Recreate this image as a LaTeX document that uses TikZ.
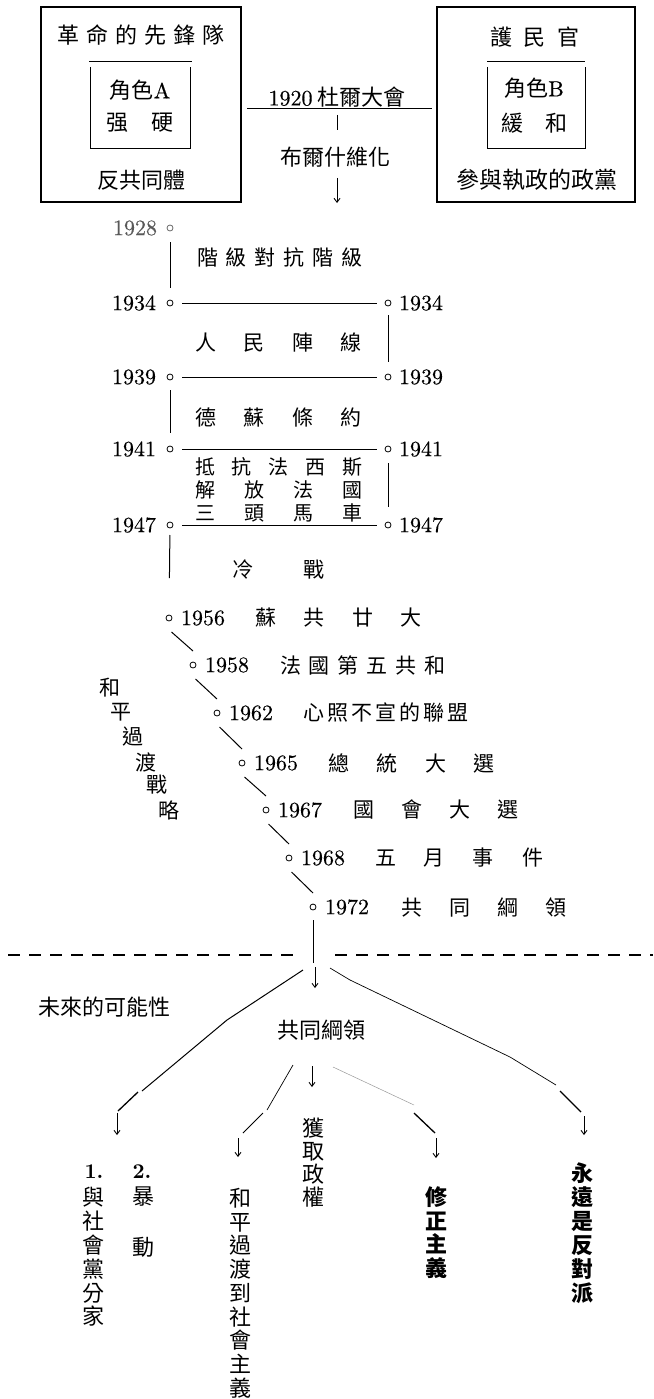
\documentclass[tikz,border=0pt]{standalone}
\usepackage{fontspec}
\newfontfamily\cjk{Noto Sans CJK TC}
\newfontfamily\numf[FakeBold=0.3]{lmroman10-regular.otf}
\newfontfamily\numb{lmroman10-bold.otf}
\usetikzlibrary{arrows.meta,calc}
\newcommand\spreadbox[2]{\makebox[#1]{#2}}
\newcommand\hf{\hfill}
\begin{document}
\begin{tikzpicture}[x=1pt,y=-1pt,
  every node/.style={inner sep=0pt, outer sep=0pt},
  dot/.style={circle, draw, minimum size=6pt, inner sep=0pt, line width=0.8pt},
  yr/.style={font=\numf\fontsize{22}{24}\selectfont},
  ct/.style={font=\cjk\fontsize{21}{24}\selectfont},
  big/.style={font=\cjk\fontsize{22}{24}\selectfont},
  vt/.style={font=\cjk\fontsize{22}{23.8}\selectfont, align=center},
  ln/.style={line width=1pt},
  thin/.style={line width=0.7pt},
  arr/.style={line width=0.9pt, -{Straight Barb[length=4pt,width=6pt]}},
  framebox/.style={line width=2.4pt},
  dsh/.style={line width=1.4pt, dash pattern=on 12pt off 9pt},
]
\useasboundingbox (0,0) rectangle (653,1399);

% ---------- top boxes ----------
\coordinate (LB1) at (41,7);  \coordinate (LB2) at (241,202);
\draw[framebox] (LB1) rectangle (LB2);
\coordinate (RB1) at (437,7); \coordinate (RB2) at (635,202);
\draw[framebox] (RB1) rectangle (RB2);

\node[big] (lt) at (141,35) {\spreadbox{167pt}{革\hf 命\hf 的\hf 先\hf 鋒\hf 隊}};
\coordinate (li1) at (89,61); \coordinate (li2) at (192,61);
\draw[thin] (li1) -- (li2);
\coordinate (li3) at (90,67); \coordinate (li4) at (90,148);
\coordinate (li5) at (190,148); \coordinate (li6) at (190,67);
\draw[thin] (li3) -- (li4) -- (li5) -- (li6);
\node[big] (la) at (140,90) {角色{\numf\fontsize{22}{24}\selectfont A}};
\node[big] (lb) at (140,123) {\spreadbox{68pt}{强\hf 硬}};
\node[big] (lc) at (141,180) {反共同體};

\node[big] (rt) at (535,37) {\spreadbox{90pt}{護\hf 民\hf 官}};
\coordinate (ri1) at (487,61); \coordinate (ri2) at (585,61);
\draw[thin] (ri1) -- (ri2);
\coordinate (ri3) at (487,67); \coordinate (ri4) at (487,148);
\coordinate (ri5) at (585,148); \coordinate (ri6) at (585,67);
\draw[line width=0.9pt] (ri3) -- (ri4) -- (ri5) -- (ri6);
\node[big] (ra) at (534,88) {角色{\numf\fontsize{22}{24}\selectfont B}};
\node[big] (rb) at (534,123) {\spreadbox{66pt}{緩\hf 和}};
\node[font=\cjk\fontsize{23}{24}\selectfont] (rc) at (537,180) {參與執政的政黨};

% ---------- middle top ----------
\node[big] (m1) at (337,97) {{\numf\fontsize{22}{24}\selectfont 1920}\ 杜爾大會};
\coordinate (u1) at (247,108); \coordinate (u2) at (432,108);
\draw[thin] (u1) -- (u2);
\coordinate (k1) at (337,115); \coordinate (k2) at (337,130);
\draw[thin] (k1) -- (k2);
\node[big] (m2) at (335,157) {布爾什維化};
\coordinate (k3) at (337,178); \coordinate (k4) at (337,203);
\draw[arr] (k3) -- (k4);

% ---------- timeline (parallel part) ----------
\node[dot, draw=black!60] (c1928) at (170,228) {};
\node[dot] (c1934L) at (170,303) {};
\node[dot] (c1934R) at (388,303) {};
\node[dot] (c1939L) at (170,377) {};
\node[dot] (c1939R) at (388,377) {};
\node[dot] (c1941L) at (170,449) {};
\node[dot] (c1941R) at (388,449) {};
\node[dot] (c1947L) at (170,525) {};
\node[dot] (c1947R) at (388,525) {};

\node[yr, anchor=east, text=black!65] (y1928) at (157,228) {1928};
\node[yr, anchor=east] (y1934L) at (156,303) {1934};
\node[yr, anchor=west] (y1934R) at (399,303) {1934};
\node[yr, anchor=east] (y1939L) at (156,377) {1939};
\node[yr, anchor=west] (y1939R) at (399,377) {1939};
\node[yr, anchor=east] (y1941L) at (156,449) {1941};
\node[yr, anchor=west] (y1941R) at (399,449) {1941};
\node[yr, anchor=east] (y1947L) at (156,525) {1947};
\node[yr, anchor=west] (y1947R) at (399,525) {1947};

\draw[ln, shorten <=11pt, shorten >=12pt] (c1928) -- (c1934L);
\draw[ln, shorten <=9pt, shorten >=8pt] (c1934L) -- (c1934R);
\draw[ln, shorten <=9pt, shorten >=12pt] (c1934R) -- (c1939R);
\draw[ln, shorten <=9pt, shorten >=8pt] (c1939L) -- (c1939R);
\draw[ln, shorten <=10pt, shorten >=13pt] (c1939L) -- (c1941L);
\draw[ln, shorten <=9pt, shorten >=8pt] (c1941L) -- (c1941R);
\draw[ln, shorten <=11pt, shorten >=15pt] (c1941R) -- (c1947R);
\draw[ln, shorten <=9pt, shorten >=8pt] (c1947L) -- (c1947R);

\node[ct, anchor=west] (p1) at (197,257) {\spreadbox{165pt}{階\hf 級\hf 對\hf 抗\hf 階\hf 級}};
\node[ct, anchor=west] (p2) at (195,343) {\spreadbox{167pt}{人\hf 民\hf 陣\hf 線}};
\node[ct, anchor=west] (p3) at (195,417) {\spreadbox{167pt}{德\hf 蘇\hf 條\hf 約}};
\node[font=\cjk\fontsize{20}{23}\selectfont, align=center] (p4) at (278.5,490)
  {\spreadbox{167pt}{抵\hf 抗\hf 法\hf 西\hf 斯}\\
   \spreadbox{167pt}{解\hf 放\hf 法\hf 國}\\
   \spreadbox{167pt}{三\hf 頭\hf 馬\hf 車}};

% ---------- timeline (diagonal part) ----------
\node[dot] (c1956) at (169,618) {};
\node[dot] (c1958) at (193,665) {};
\node[dot] (c1962) at (217,713) {};
\node[dot] (c1965) at (242,763) {};
\node[dot] (c1967) at (266,810) {};
\node[dot] (c1968) at (289,858) {};
\node[dot] (c1972) at (313,907) {};

\draw[ln, shorten <=7pt, shorten >=37pt] (c1947L) -- (c1956);
\node[ct, anchor=west] (p5) at (232,570) {\spreadbox{93pt}{冷\hf 戰}};

\foreach \a/\b in {c1956/c1958, c1958/c1962, c1962/c1965, c1965/c1967, c1967/c1968, c1968/c1972}
  \draw[ln] ($(\a)+(2.5,14)$) -- ($(\b)+(0,-14)$);

\node[yr, anchor=west] (y1956) at (181,618) {1956};
\node[yr, anchor=west] (y1958) at (205,665) {1958};
\node[yr, anchor=west] (y1962) at (229,713) {1962};
\node[yr, anchor=west] (y1965) at (254,763) {1965};
\node[yr, anchor=west] (y1967) at (278,810) {1967};
\node[yr, anchor=west] (y1968) at (301,858) {1968};
\node[yr, anchor=west] (y1972) at (325,907) {1972};

\node[ct, anchor=west] (e1956) at (255,618) {\spreadbox{167pt}{蘇\hf 共\hf 廿\hf 大}};
\node[ct, anchor=west] (e1958) at (280,665) {\spreadbox{166pt}{法\hf 國\hf 第\hf 五\hf 共\hf 和}};
\node[ct, anchor=west] (e1962) at (303,713) {\spreadbox{166pt}{心\hf 照\hf 不\hf 宣\hf 的\hf 聯\hf 盟}};
\node[ct, anchor=west] (e1965) at (328,763) {\spreadbox{167pt}{總\hf 統\hf 大\hf 選}};
\node[ct, anchor=west] (e1967) at (353,810) {\spreadbox{166pt}{國\hf 會\hf 大\hf 選}};
\node[ct, anchor=west] (e1968) at (375,858) {\spreadbox{168pt}{五\hf 月\hf 事\hf 件}};
\node[ct, anchor=west] (e1972) at (401,907) {\spreadbox{166pt}{共\hf 同\hf 綱\hf 領}};

\foreach \c/\x/\y [count=\i] in {和/110/688, 平/121/712, 過/133/737, 渡/146/762, 戰/157/785, 略/169/810}
  \node[ct] (s\i) at (\x,\y) {\c};

% ---------- future ----------
\coordinate (d1) at (8,955);   \coordinate (d2) at (293,955);
\coordinate (d3) at (335,955); \coordinate (d4) at (653,955);
\draw[dsh] (d1) -- (d2);
\draw[dsh] (d3) -- (d4);

\coordinate (t1) at (313,963);
\draw[ln, shorten <=10pt] (c1972) -- (t1);
\coordinate (a0s) at (315,967); \coordinate (a0e) at (315,988);
\draw[arr] (a0s) -- (a0e);

\node[big] (fut) at (104,1007) {未來的可能性};
\node[big] (cp) at (321,1030) {共同綱領};

\coordinate (a1s) at (312,1066); \coordinate (a1e) at (312,1087);
\draw[arr] (a1s) -- (a1e);

% branch 1
\coordinate (b1a) at (303,970); \coordinate (b1b) at (227,1020); \coordinate (b1c) at (142,1091);
\draw[ln] (b1a) -- (b1b) -- (b1c);
\coordinate (b1d) at (138,1092); \coordinate (b1e) at (118,1111);
\draw[line width=1.3pt] (b1d) -- (b1e);
\coordinate (b1f) at (117,1113); \coordinate (b1g) at (117,1135);
\draw[arr] (b1f) -- (b1g);

% branch 2
\coordinate (b2a) at (293,1065); \coordinate (b2b) at (267,1110);
\draw[thin] (b2a) -- (b2b);
\coordinate (b2c) at (263,1113); \coordinate (b2d) at (243,1133);
\draw[ln] (b2c) -- (b2d);
\coordinate (b2f) at (238,1138); \coordinate (b2g) at (238,1157);
\draw[arr] (b2f) -- (b2g);

% branch 3 (faint)
\coordinate (b3a) at (333,1067); \coordinate (b3b) at (414,1105);
\draw[line width=0.5pt, black!40] (b3a) -- (b3b);
\coordinate (b3c) at (414,1113); \coordinate (b3d) at (435,1133);
\draw[line width=1.3pt] (b3c) -- (b3d);
\coordinate (b3f) at (436,1138); \coordinate (b3g) at (436,1158);
\draw[arr] (b3f) -- (b3g);

% branch 4
\coordinate (b4a) at (330,968); \coordinate (b4b) at (350,980);
\coordinate (b4c) at (510,1057); \coordinate (b4d) at (556,1085);
\draw[thin] (b4a) -- (b4b) -- (b4c) -- (b4d);
\coordinate (b4e) at (560,1091); \coordinate (b4f) at (581,1112);
\draw[line width=1.3pt] (b4e) -- (b4f);
\coordinate (b4g) at (584,1116); \coordinate (b4h) at (584,1135);
\draw[arr] (b4g) -- (b4h);

% outcomes
\node[font=\numb\fontsize{21}{24}\selectfont] (n1) at (94,1172) {1.};
\node[font=\numb\fontsize{21}{24}\selectfont] (n2) at (142,1172) {2.};
\node[vt] (o1) at (93,1257) {與\\社\\會\\黨\\分\\家};
\node[vt] (o2a) at (143,1197) {暴};
\node[vt] (o2b) at (143,1247) {動};
\node[vt, font=\cjk\fontsize{22}{23.75}\selectfont] (o3) at (240,1293) {和\\平\\過\\渡\\到\\社\\會\\主\\義};
\node[vt, font=\cjk\fontsize{22}{23}\selectfont] (o4) at (313,1162.5) {獲\\取\\政\\權};
\node[vt, font=\cjk\bfseries\fontsize{22}{23.7}\selectfont] (o5) at (436,1232.5) {修\\正\\主\\義};
\node[vt, font=\cjk\bfseries\fontsize{22}{24}\selectfont] (o6) at (582,1233) {永\\遠\\是\\反\\對\\派};
\end{tikzpicture}
\end{document}
